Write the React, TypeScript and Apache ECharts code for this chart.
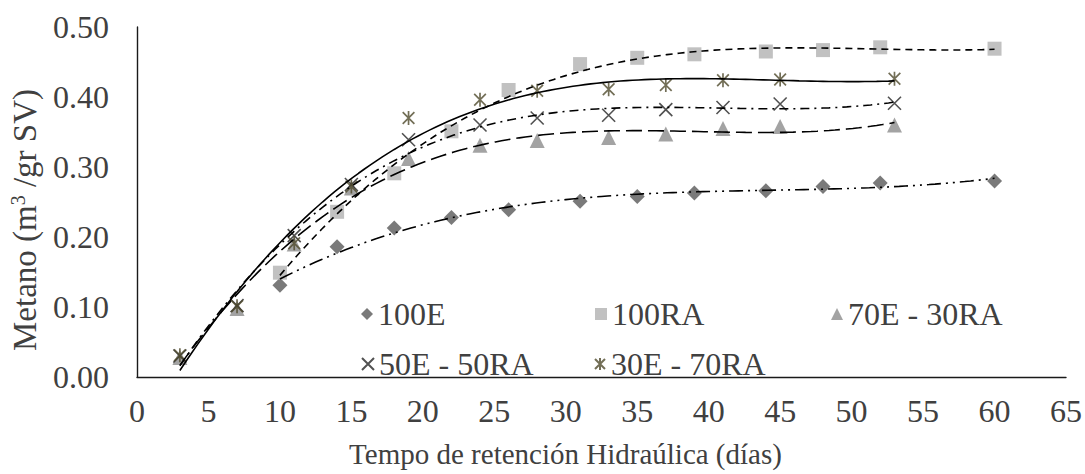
import React, { useEffect, useRef } from "react";
import * as echarts from "echarts";

const xA = [3, 7, 11, 15, 19, 24, 28, 33, 37, 41, 45, 53];
const xB = [10, 14, 18, 22, 26, 31, 35, 39, 44, 48, 52, 60];

const s100E = [0.131, 0.186, 0.213, 0.228, 0.239, 0.251, 0.258, 0.263, 0.266, 0.272, 0.277, 0.28];
const s100RA = [0.149, 0.236, 0.291, 0.351, 0.41, 0.447, 0.456, 0.461, 0.465, 0.467, 0.471, 0.469];
const s70E30RA = [0.028, 0.098, 0.19, 0.27, 0.312, 0.331, 0.338, 0.342, 0.347, 0.355, 0.358, 0.36];
const s50E50RA = [0.03, 0.102, 0.202, 0.275, 0.339, 0.36, 0.37, 0.374, 0.382, 0.385, 0.39, 0.391];
const s30E70RA = [0.031, 0.101, 0.191, 0.272, 0.37, 0.396, 0.409, 0.411, 0.417, 0.424, 0.425, 0.426];

const names = ["100E", "100RA", "70E - 30RA", "50E - 50RA", "30E - 70RA"];
const xTicks = [0, 65, 5];
const yTicks = [0, 0.5, 0.1];

function polyfit(xs: number[], ys: number[], order: number) {
  const n = order + 1;
  const A: number[][] = [];
  for (let i = 0; i < n; i++) {
    const row: number[] = [];
    for (let j = 0; j < n; j++) {
      let s = 0;
      for (const x of xs) s += Math.pow(x, i + j);
      row.push(s);
    }
    let r = 0;
    xs.forEach((x, k) => (r += ys[k] * Math.pow(x, i)));
    row.push(r);
    A.push(row);
  }
  for (let c = 0; c < n; c++) {
    let p = c;
    for (let r = c + 1; r < n; r++) if (Math.abs(A[r][c]) > Math.abs(A[p][c])) p = r;
    [A[c], A[p]] = [A[p], A[c]];
    for (let r = 0; r < n; r++) {
      if (r === c) continue;
      const f = A[r][c] / A[c][c];
      for (let k = c; k <= n; k++) A[r][k] -= f * A[c][k];
    }
  }
  return A.map((row, i) => row[n] / row[i]);
}

function trend(xs: number[], ys: number[], order: number) {
  const co = polyfit(xs, ys, order);
  const x0 = xs[0];
  const x1 = xs[xs.length - 1];
  const pts: number[][] = [];
  const N = 120;
  for (let i = 0; i <= N; i++) {
    const x = x0 + ((x1 - x0) * i) / N;
    let y = 0;
    co.forEach((c, k) => (y += c * Math.pow(x, k)));
    pts.push([x, y]);
  }
  return pts;
}

const FONT = "'Liberation Serif', 'Times New Roman', serif";
const TXT = "#404040";

export default function App() {
  const ref = useRef<HTMLDivElement>(null);
  useEffect(() => {
    const chart = echarts.init(ref.current!, null, { renderer: "svg" });
    const pair = (xs: number[], ys: number[]) => xs.map((x, i) => [x, ys[i]]);
    const markerSeries = [
      { name: names[0], data: pair(xB, s100E), symbol: "diamond", symbolSize: 15, itemStyle: { color: "#595959" } },
      { name: names[1], data: pair(xB, s100RA), symbol: "rect", symbolSize: 14, itemStyle: { color: "#B2B2B2" } },
      { name: names[2], data: pair(xA, s70E30RA), symbol: "triangle", symbolSize: 15, itemStyle: { color: "#8C8C8C" } },
      {
        name: names[3],
        data: pair(xA, s50E50RA),
        symbol: "path://M0,0L10,10M10,0L0,10",
        symbolSize: 13,
        itemStyle: { color: "rgba(0,0,0,0)", borderColor: "#262626", borderWidth: 1.6 },
      },
      {
        name: names[4],
        data: pair(xA, s30E70RA),
        symbol: "path://M0,0L10,10M10,0L0,10M5,-1L5,11",
        symbolSize: 14,
        itemStyle: { color: "rgba(0,0,0,0)", borderColor: "#4F4A2C", borderWidth: 1.7 },
      },
    ].map((s) => ({ ...s, type: "scatter", z: 2, symbolKeepAspect: true }));

    const lineDefs = [
      { xs: xB, ys: s100E, type: [14, 5, 2, 5, 2, 5], order: 3 },
      { xs: xB, ys: s100RA, type: [7, 5], order: 3 },
      { xs: xA, ys: s70E30RA, type: [16, 6], order: 3 },
      { xs: xA, ys: s50E50RA, type: [9, 5, 2, 5], order: 3 },
      { xs: xA, ys: s30E70RA, type: "solid", order: 3 },
    ];
    const lineSeries = lineDefs.map((d) => ({
      type: "line",
      data: trend(d.xs, d.ys, d.order),
      showSymbol: false,
      symbol: "none",
      z: 3,
      silent: true,
      lineStyle: { color: "#000", width: 1.6, type: d.type },
    }));

    const legendPos = [
      [356, 293],
      [590, 293],
      [826, 293],
      [356, 343],
      [589, 343],
    ];
    const legends = names.map((n, i) => ({
      data: [n],
      left: legendPos[i][0],
      top: legendPos[i][1],
      itemWidth: 12,
      itemHeight: 12,
      itemGap: 0,
      selectedMode: false,
      textStyle: { fontFamily: FONT, fontSize: 32, color: TXT },
    }));

    chart.setOption({
      animation: false,
      textStyle: { fontFamily: FONT },
      grid: { left: 137, right: 18, top: 27, bottom: 97 },
      legend: legends,
      xAxis: {
        type: "value",
        min: xTicks[0],
        max: xTicks[1],
        interval: xTicks[2],
        name: "Tempo de retención Hidraúlica (días)",
        nameLocation: "middle",
        nameGap: 62,
        nameTextStyle: { fontFamily: FONT, fontSize: 29, color: TXT, padding: [0, 72, 0, 0] },
        axisLine: { lineStyle: { color: "#1a1a1a", width: 1.4 } },
        axisTick: { show: false },
        splitLine: { show: false },
        axisLabel: { fontFamily: FONT, fontSize: 32, color: TXT, margin: 18 },
      },
      yAxis: {
        type: "value",
        min: yTicks[0],
        max: yTicks[1],
        interval: yTicks[2],
        name: "Metano (m{sup|3} /gr SV)",
        nameLocation: "middle",
        nameGap: 95,
        nameTextStyle: {
          fontFamily: FONT,
          fontSize: 33,
          color: TXT,
          padding: [0, 36, 0, 0],
          rich: { sup: { fontFamily: FONT, fontSize: 20, color: TXT, verticalAlign: "top", padding: [0, 0, 14, 0] } },
        },
        axisLine: { show: true, lineStyle: { color: "#1a1a1a", width: 1.4 } },
        axisTick: { show: false },
        splitLine: { show: false },
        axisLabel: {
          fontFamily: FONT,
          fontSize: 32,
          color: TXT,
          margin: 28,
          formatter: (v: number) => v.toFixed(2),
        },
      },
      series: [...markerSeries, ...lineSeries],
    });
    return () => chart.dispose();
  }, []);
  return <div ref={ref} style={{ width: 1085, height: 474, position: "absolute", left: 0, top: 0 }} />;
}
